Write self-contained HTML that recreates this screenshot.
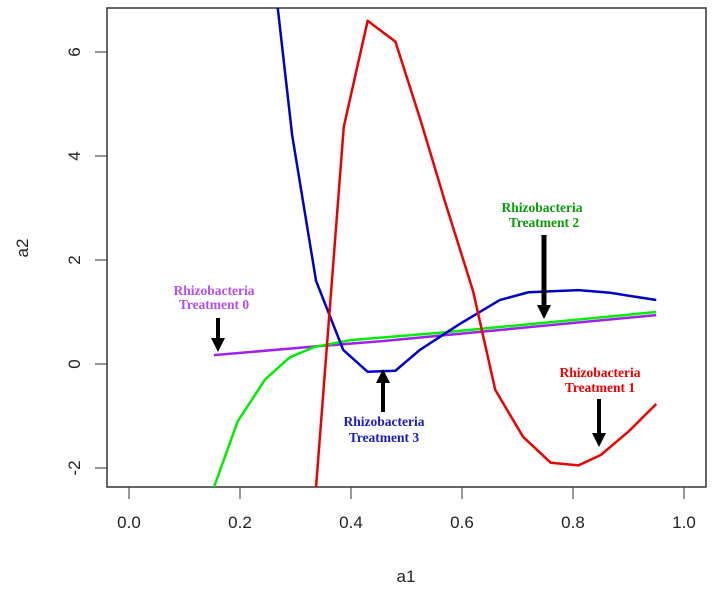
<!DOCTYPE html>
<html><head><meta charset="utf-8"><style>
html,body{margin:0;padding:0;background:#fff}
svg{display:block}
.t{font-family:"Liberation Sans",sans-serif;font-size:17px;fill:#222}
.a{font-family:"Liberation Serif",serif;font-size:13.5px;font-weight:bold}
</style></head><body>
<svg id="c" width="713" height="591">
<defs><clipPath id="clip"><rect x="107" y="8" width="599" height="479"/></clipPath></defs>
<rect x="107" y="8" width="599" height="479" fill="none" stroke="#333" stroke-width="1.5"/>
<g id="axes"></g>
<g id="lines" clip-path="url(#clip)"></g>
<text class="t" x="406" y="582" text-anchor="middle">a1</text>
<text class="t" x="28" y="248" text-anchor="middle" transform="rotate(-90 28 248)">a2</text>
<g>
<text class="a" fill="#b44ef0" x="214" y="295" text-anchor="middle">Rhizobacteria</text>
<text class="a" fill="#b44ef0" x="214" y="309" text-anchor="middle">Treatment 0</text>
<line x1="218" y1="318" x2="218" y2="340" stroke="#000" stroke-width="4"/><polygon points="211,338 225,338 218,352" fill="#000"/></g>
<g>
<text class="a" fill="#0a9a0a" x="542" y="212" text-anchor="middle">Rhizobacteria</text>
<text class="a" fill="#0a9a0a" x="544" y="227" text-anchor="middle">Treatment 2</text>
<line x1="544" y1="235" x2="544" y2="307" stroke="#000" stroke-width="5"/><polygon points="537,305 551,305 544,319" fill="#000"/></g>
<g>
<text class="a" fill="#e00" x="600" y="377" text-anchor="middle">Rhizobacteria</text>
<text class="a" fill="#e00" x="600" y="392" text-anchor="middle">Treatment 1</text>
<line x1="599" y1="399" x2="599" y2="436" stroke="#000" stroke-width="4"/><polygon points="592,433 606,433 599,447" fill="#000"/></g>
<g>
<text class="a" fill="#1a1acc" x="384" y="426" text-anchor="middle">Rhizobacteria</text>
<text class="a" fill="#1a1acc" x="384" y="442" text-anchor="middle">Treatment 3</text>
<line x1="383" y1="380" x2="383" y2="412" stroke="#000" stroke-width="4"/><polygon points="376,383 390,383 383,369" fill="#000"/></g>
</svg>
<script>
const xTicks=[0,0.2,0.4,0.6,0.8,1.0];
const xTickLabels=["0.0","0.2","0.4","0.6","0.8","1.0"];
const yTicks=[-2,0,2,4,6];
const yTickLabels=["-2","0","2","4","6"];
const t1X=[0.337,0.387,0.430,0.480,0.525,0.57,0.62,0.66,0.71,0.76,0.81,0.85,0.90,0.95];
const t1Y=[-2.37,4.56,6.6,6.2,4.7,3.1,1.4,-0.5,-1.4,-1.9,-1.95,-1.75,-1.3,-0.77];
const t3X=[0.268,0.294,0.337,0.386,0.43,0.48,0.524,0.596,0.668,0.72,0.81,0.867,0.95];
const t3Y=[6.85,4.4,1.6,0.27,-0.15,-0.13,0.27,0.77,1.23,1.38,1.42,1.37,1.23];
const t2X=[0.153,0.196,0.245,0.29,0.335,0.4,0.56,0.95];
const t2Y=[-2.37,-1.1,-0.3,0.13,0.33,0.46,0.6,1.0];
const t0X=[0.153,0.326,0.456,0.95];
const t0Y=[0.17,0.33,0.44,0.94];
const NS="http://www.w3.org/2000/svg";
const sx=v=>129+555*v, sy=v=>364-52*v;
const axes=document.getElementById('axes'), lines=document.getElementById('lines');
function mk(tag,attrs,parent){const e=document.createElementNS(NS,tag);for(const k in attrs)e.setAttribute(k,attrs[k]);parent.appendChild(e);return e;}
xTicks.forEach((v,i)=>{
 const l=mk('line',{x1:sx(v),x2:sx(v),y1:487,y2:499,stroke:'#333'},axes);
 
 
 const t=mk('text',{x:sx(v),y:528,'text-anchor':'middle',class:'t'},axes);t.textContent=xTickLabels[i];
 
 
});
yTicks.forEach((v,i)=>{
 const l=mk('line',{x1:95,x2:107,y1:sy(v),y2:sy(v),stroke:'#333'},axes);
 
 
 const t=mk('text',{x:0,y:0,'text-anchor':'middle',class:'t',transform:`translate(80 ${sy(v)}) rotate(-90)`},axes);t.textContent=yTickLabels[i];
 
 
});
function series(xs,ys,color,name){
 const p=mk('polyline',{points:xs.map((x,i)=>sx(x)+','+sy(ys[i])).join(' '),fill:'none',stroke:color,'stroke-width':2.5,'stroke-linejoin':'round'},lines);
 
 
}
series(t0X,t0Y,'#a020f0','line-treatment-0');
series(t2X,t2Y,'#00ee00','line-treatment-2');
series(t3X,t3Y,'#0000cc','line-treatment-3');
series(t1X,t1Y,'#ee0000','line-treatment-1');
</script>
</body></html>
